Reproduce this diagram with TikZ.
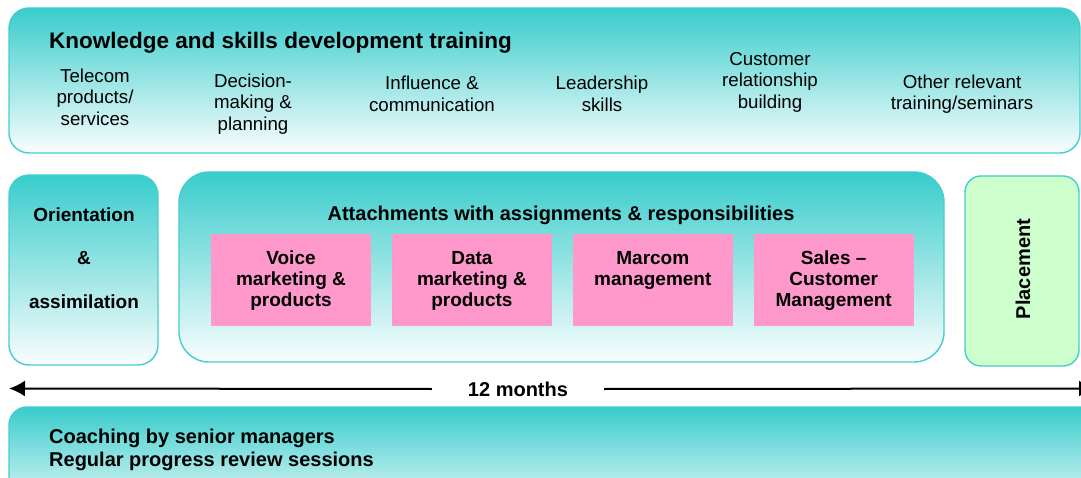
\documentclass[tikz,border=0pt]{standalone}
\usepackage{fontspec}
\setmainfont{Liberation Sans}
\usepackage{tikz}
\usetikzlibrary{positioning}
\usetikzlibrary{arrows.meta}
\definecolor{lagoon}{RGB}{57,204,204}
\definecolor{lagoonline}{RGB}{70,205,205}
\definecolor{mist}{RGB}{250,253,253}
\definecolor{blush}{RGB}{255,153,204}
\definecolor{mint}{RGB}{204,255,204}

\begin{document}
\begin{tikzpicture}
	[x=1pt,y=-1pt,
	panel/.style={draw=lagoonline,line width=1.4pt,top color=lagoon,bottom color=mist,inner sep=0pt},
	placebox/.style={draw=lagoonline,line width=1.4pt,fill=mint,inner sep=0pt},
	pinkbox/.style={fill=blush,minimum width=160pt,minimum height=92pt,inner sep=0pt},
	item/.style={align=center,inner sep=0pt,font=\fontsize{18.7}{21.5}\selectfont},
	boxtext/.style={align=center,inner sep=0pt,font=\fontsize{19}{21}\selectfont\bfseries},
	heading/.style={inner sep=0pt,font=\fontsize{20}{24}\selectfont\bfseries},
	span/.style={line width=2pt,-{Latex[length=16pt,width=16pt]}}]
	\useasboundingbox (0,0) rectangle (1081,478);
	\clip (0,0) rectangle (1081,478);
	% training banner
	\node[panel,rounded corners=20pt,minimum width=1071pt,minimum height=145pt] (training) at (544.5,80.5) {};
	\node[heading,anchor=west,font=\fontsize{22.5}{26}\selectfont\bfseries] (knowhow) at (49,43) {Knowledge and skills development training};
	\node[item] (telecom) at (95,97) {Telecom\\products/\\services};
	\node[item] (decision) at (253,104) {Decision-\\making \&\\planning};
	\node[item] (influence) at (432,94) {Influence \&\\communication};
	\node[item] (leader) at (602,94) {Leadership\\skills};
	\node[item] (customer) at (770,82) {Customer\\relationship\\building};
	\node[item] (other) at (962,94) {Other relevant\\training/seminars};
	% orientation
	\node[panel,rounded corners=20pt,minimum width=149pt,minimum height=190pt] (orient) at (83.5,270) {};
	\node[boxtext,font=\fontsize{19}{43.5}\selectfont\bfseries] (orienttext) at (84,258) {Orientation\\\&\\assimilation};
	% attachments
	\node[panel,rounded corners=30pt,minimum width=765pt,minimum height=190pt] (attach) at (561.5,267) {};
	\node[heading] (attachtitle) at (561,215) {Attachments with assignments \& responsibilities};
	\node[pinkbox] (voice) at (291,280) {};
	\node[pinkbox,right=20.5pt of voice] (data) {};
	\node[pinkbox,right=20.5pt of data] (marcom) {};
	\node[pinkbox,right=20.5pt of marcom] (sales) {};
	\node[boxtext,anchor=north] at ([yshift=-17pt]voice.north) {Voice\\marketing \&\\products};
	\node[boxtext,anchor=north] at ([yshift=-17pt]data.north) {Data\\marketing \&\\products};
	\node[boxtext,anchor=north] at ([yshift=-17pt]marcom.north) {Marcom\\management};
	\node[boxtext,anchor=north] at ([yshift=-17pt]sales.north) {Sales --\\Customer\\Management};
	% placement
	\node[placebox,rounded corners=16pt,minimum width=114pt,minimum height=190pt] (place) at (1022,271) {};
	\node[heading,rotate=90] (placetext) at (1023,269) {Placement};
	% duration
	\node[heading,minimum width=172pt] (months) at (518,389) {12 months};
	\coordinate (start) at (9,388.5);
	\coordinate (finish) at (1095,388.5);
	\draw[span] (months.west) -- (start);
	\draw[span] (months.east) -- (finish);
	% coaching
	\node[panel,rounded corners=18pt,minimum width=1101pt,minimum height=113pt] (coach) at (559.5,463.5) {};
	\node[boxtext,align=left,anchor=west,font=\fontsize{20}{23}\selectfont\bfseries] (coachtext) at (49,449.5) {Coaching by senior managers\\Regular progress review sessions};
\end{tikzpicture}
\end{document}
